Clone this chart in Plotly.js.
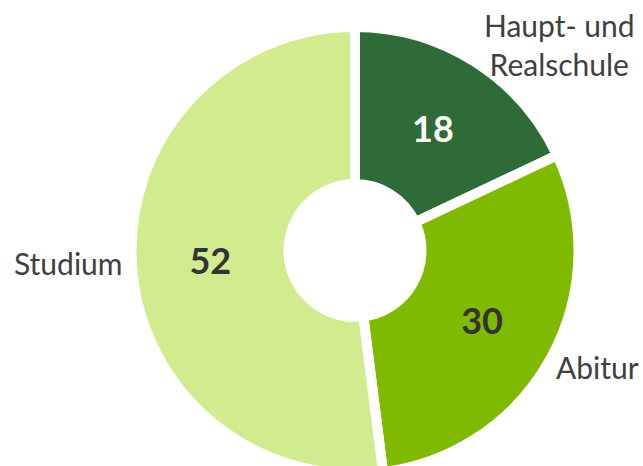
<!DOCTYPE html>
<html><head><meta charset="utf-8">
<script src="https://cdn.plot.ly/plotly-3.0.1.min.js"></script>
<style>html,body{margin:0;padding:0;overflow:hidden;background:#fff}</style>
</head><body>
<div id="chart" style="width:643px;height:480px"></div>
<script>
const categories = ["Haupt- und<br>Realschule", "Abitur", "Studium"];
const values = [18, 30, 52];
const colors = ["#2e6b38", "#80ba00", "#d2eb8f"];
const valueTextColors = ["#ffffff", "#333333", "#333333"];

const W = 643, H = 480;
const px = x => x / W;
const py = y => 1 - y / H;

const trace = {
  type: "pie",
  values: values,
  labels: categories,
  sort: false,
  direction: "clockwise",
  rotation: 0,
  hole: 0.2975,
  marker: {colors: colors, line: {color: "#ffffff", width: 10}},
  texttemplate: "<b>%{value}</b>",
  textposition: "inside",
  insidetextorientation: "horizontal",
  insidetextfont: {family: "Lato, sans-serif", size: 36, color: valueTextColors},
  domain: {x: [0.2045, 0.8997], y: [0.0125, 0.94375]},
  showlegend: false,
  hoverinfo: "none"
};

const labelFont = {family: "Lato, sans-serif", size: 30, color: "#404040"};
const annotations = [
  {text: "Haupt- und<br>Realschule", x: px(559), y: py(44), align: "center"},
  {text: "Abitur", x: px(597), y: py(367), align: "center"},
  {text: "Studium", x: px(68), y: py(263), align: "center"}
].map(a => Object.assign({xref: "paper", yref: "paper", showarrow: false,
  xanchor: "center", yanchor: "middle", font: labelFont}, a));

Plotly.newPlot("chart", [trace], {
  width: W, height: H,
  margin: {l: 0, r: 0, t: 0, b: 0},
  paper_bgcolor: "#ffffff",
  annotations: annotations
}, {displayModeBar: false, staticPlot: true});
</script>
</body></html>
